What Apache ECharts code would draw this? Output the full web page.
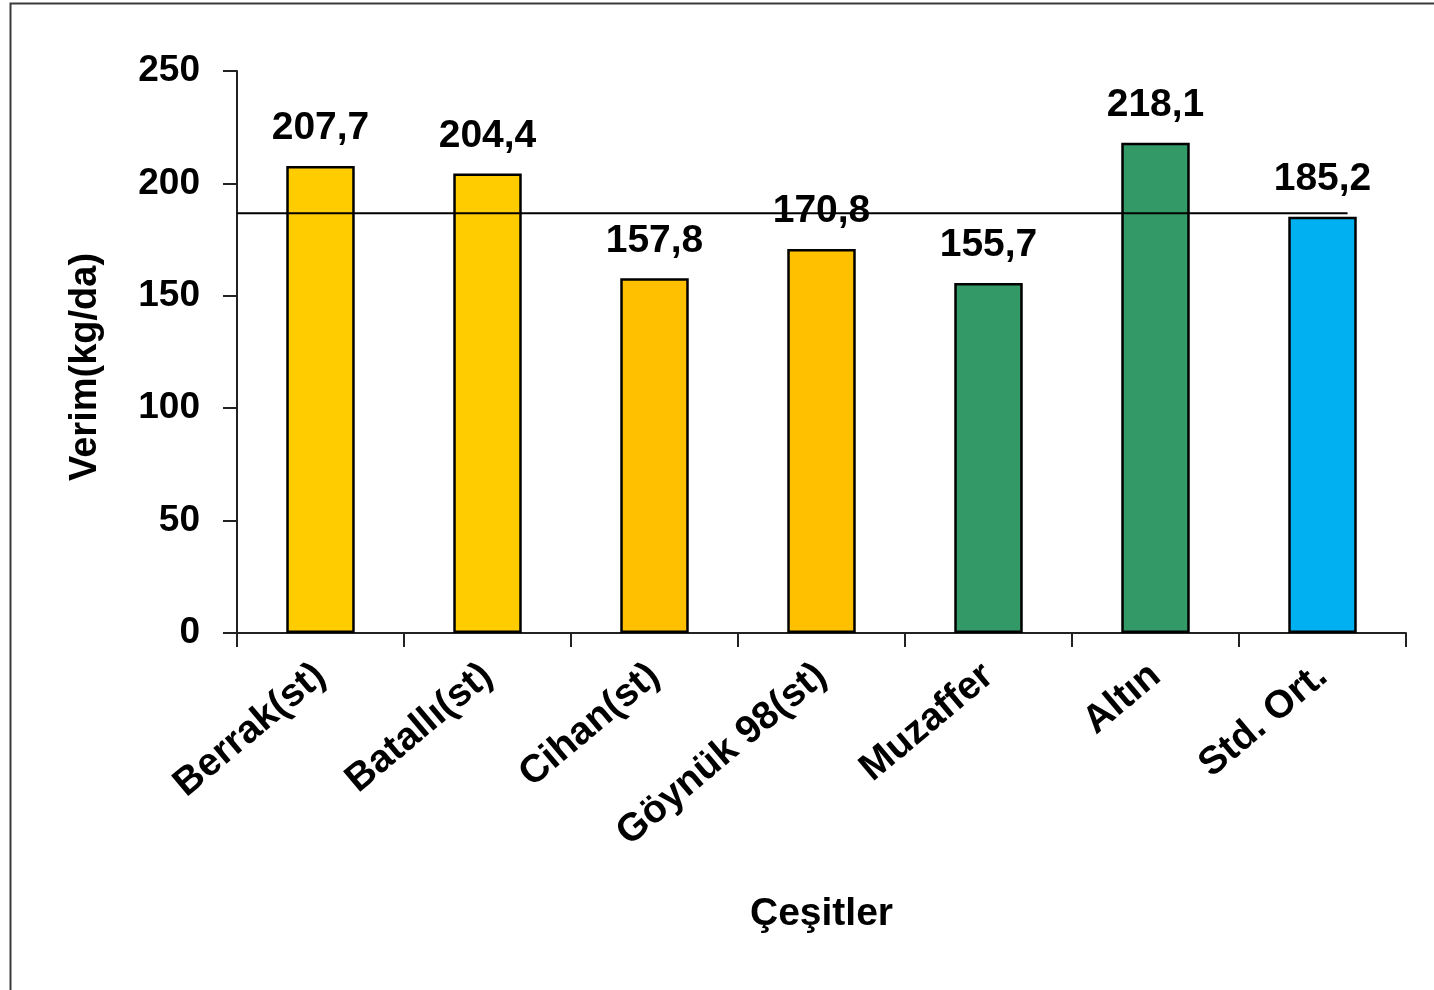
<!DOCTYPE html>
<html>
<head>
<meta charset="utf-8">
<script src="https://cdn.jsdelivr.net/npm/echarts@6/dist/echarts.min.js"></script>
<style>html,body{margin:0;padding:0;background:#fff;}#c{width:1434px;height:990px;}</style>
</head>
<body>
<div id="c"></div>
<script>
const categories = ['Berrak(st)', 'Batallı(st)', 'Cihan(st)', 'Göynük 98(st)', 'Muzaffer', 'Altın', 'Std. Ort.'];
const values = [207.7, 204.4, 157.8, 170.8, 155.7, 218.1, 185.2];
const barColors = ['#FFCC00', '#FFCC00', '#FFC000', '#FFC000', '#339966', '#339966', '#00B0F0'];
const meanLineValue = 186.7;
const meanLineSpan = [0, 6.65];
const yTicks = [0, 50, 100, 150, 200, 250];

const FONT = '"Liberation Sans", Arial, sans-serif';
const chart = echarts.init(document.getElementById('c'), null, {renderer: 'canvas'});
chart.setOption({
  animation: false,
  backgroundColor: '#fff',
  graphic: [{
    type: 'rect', left: 8, top: 1, z: 100, silent: true,
    shape: {x: 0, y: 0, width: 1440, height: 1000},
    style: {fill: 'none', stroke: '#3a3a3a', lineWidth: 2}
  }],
  grid: {left: 237, top: 71, right: 28, bottom: 357, containLabel: false},
  xAxis: [{
    type: 'category',
    data: categories,
    name: 'Çeşitler',
    nameLocation: 'middle',
    nameGap: 262,
    nameTextStyle: {fontFamily: FONT, fontWeight: 'bold', fontSize: 39, color: '#000'},
    axisLine: {lineStyle: {color: '#222', width: 2}},
    axisTick: {show: true, length: 14, alignWithLabel: false, lineStyle: {color: '#222', width: 2}},
    axisLabel: {rotate: 40, margin: 38, interval: 0, fontFamily: FONT, fontWeight: 'bold', fontSize: 39, color: '#000'}
  }, {
    type: 'value', min: 0, max: 7, show: false
  }],
  yAxis: {
    type: 'value', min: 0, max: 250, interval: 50,
    name: 'Verim(kg/da)',
    nameLocation: 'middle',
    nameGap: 132,
    nameTextStyle: {fontFamily: FONT, fontWeight: 'bold', fontSize: 38, color: '#000', padding: [0, 30, 0, 0]},
    axisLine: {show: true, lineStyle: {color: '#222', width: 2}},
    axisTick: {show: true, length: 14, lineStyle: {color: '#222', width: 2}},
    splitLine: {show: false},
    axisLabel: {
      margin: 37, fontFamily: FONT, fontWeight: 'bold', fontSize: 37, color: '#000',
      formatter: v => yTicks.includes(v) ? String(v) : ''
    }
  },
  series: [{
    type: 'bar',
    xAxisIndex: 0,
    barWidth: '41%',
    data: values.map((v, i) => ({value: v, itemStyle: {color: barColors[i]}})),
    itemStyle: {borderColor: '#000', borderWidth: 2.5},
    label: {
      show: true, position: 'top', distance: 18,
      fontFamily: FONT, fontWeight: 'bold', fontSize: 39, color: '#000',
      formatter: p => p.value.toFixed(1).replace('.', ',')
    },
    z: 2
  }, {
    type: 'line',
    xAxisIndex: 1,
    data: meanLineSpan.map(x => [x, meanLineValue]),
    symbol: 'none',
    lineStyle: {color: '#000', width: 2},
    z: 5
  }]
});
</script>
</body>
</html>
